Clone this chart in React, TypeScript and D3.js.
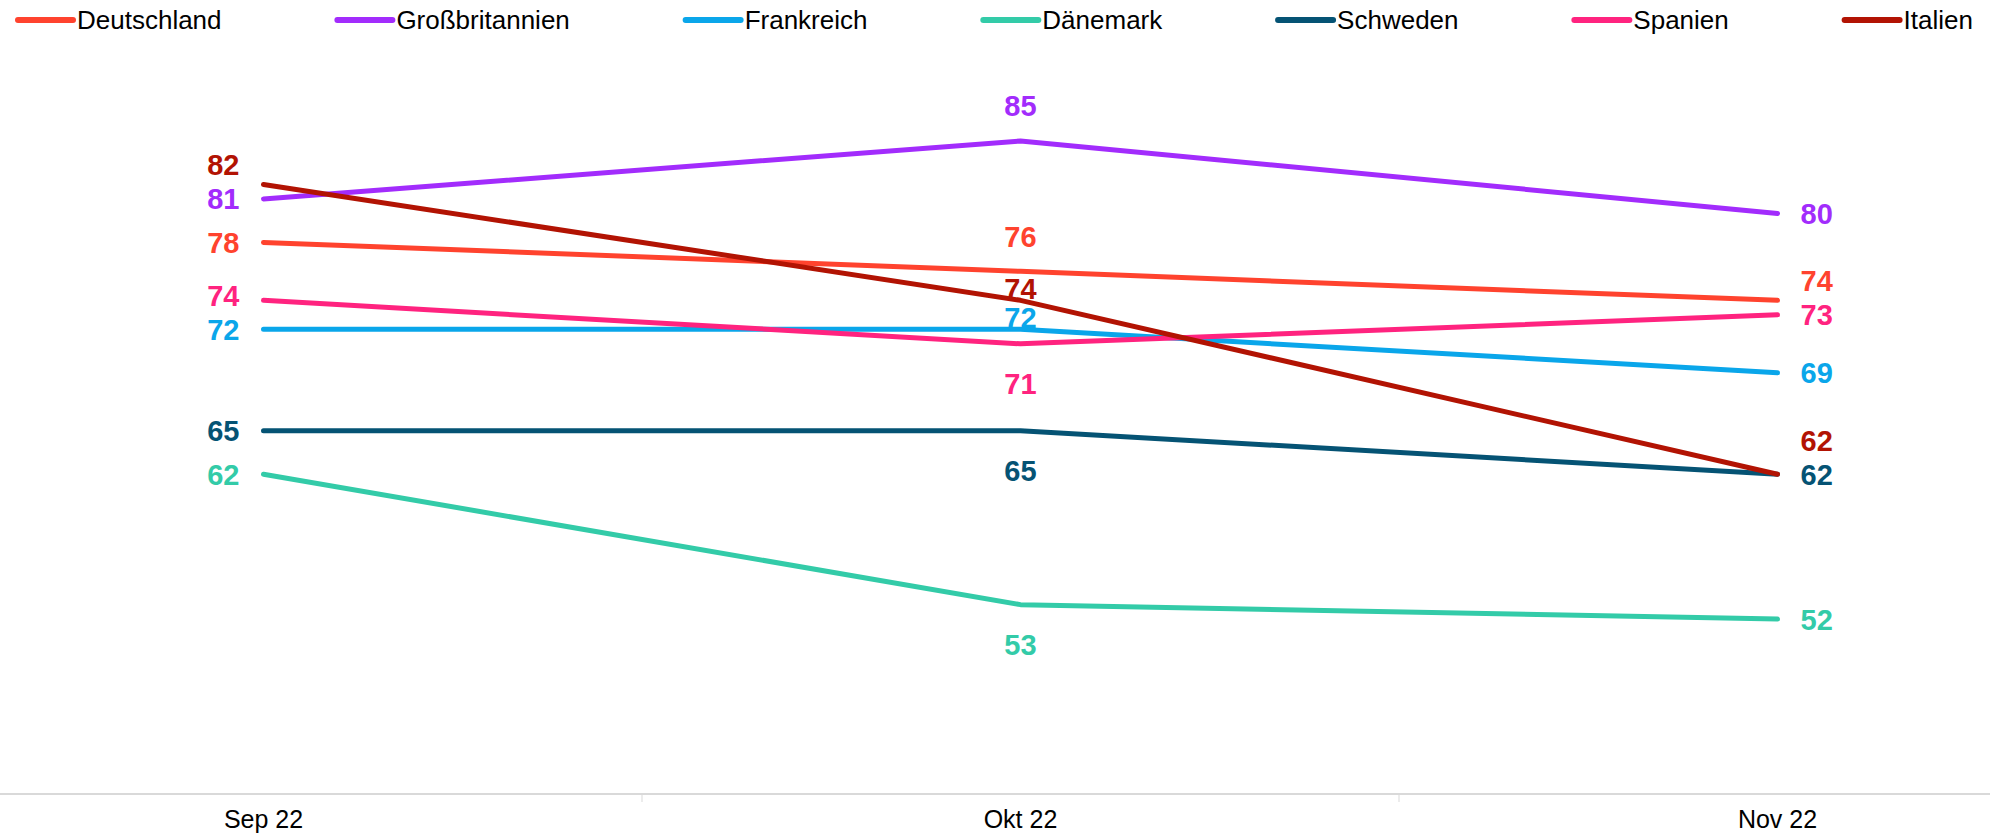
import * as d3 from "d3";
import React, { useEffect, useRef } from "react";

const W = 1990;
const H = 839;

const months = ["Sep 22", "Okt 22", "Nov 22"];
const countries = ["Deutschland", "Großbritannien", "Frankreich", "Dänemark", "Schweden", "Spanien", "Italien"];

const deutschland = [78, 76, 74];
const grossbritannien = [81, 85, 80];
const frankreich = [72, 72, 69];
const daenemark = [62, 53, 52];
const schweden = [65, 65, 62];
const spanien = [74, 71, 73];
const italien = [82, 74, 62];

const seriesValues = [deutschland, grossbritannien, frankreich, daenemark, schweden, spanien, italien];
const colors = ["#FF432E", "#A22CFC", "#0AA6EA", "#33CBA8", "#055374", "#FF237F", "#B21303"];

const FONT = "'Liberation Sans', Arial, sans-serif";

const App = () => {
    const svgRef = useRef(null);

    useEffect(() => {
        const svg = d3.select(svgRef.current);
        svg.selectAll("*").remove();

        // band scale: centres of the three months, ticks at band edges
        const x = d3.scaleBand().domain(months).range([-115, 2156]).paddingInner(0).paddingOuter(0);
        const cx = (m) => x(m) + x.bandwidth() / 2;
        const y = d3.scaleLinear().domain([40, 90]).range([793, 68.5]);

        const series = countries.map((name, i) => ({
            name,
            color: colors[i],
            values: seriesValues[i].map((v, j) => ({ month: months[j], value: v })),
        }));

        // x axis
        const axis = svg.append("g");
        axis.append("line")
            .attr("x1", 0).attr("x2", W)
            .attr("y1", y(40) + 1).attr("y2", y(40) + 1)
            .attr("stroke", "#D9D9D9").attr("stroke-width", 2);
        months.slice(1).forEach((m) => {
            axis.append("line")
                .attr("x1", x(m)).attr("x2", x(m))
                .attr("y1", y(40) + 1).attr("y2", y(40) + 9)
                .attr("stroke", "#D9D9D9").attr("stroke-width", 1);
        });
        axis.selectAll("text.month")
            .data(months)
            .enter()
            .append("text")
            .attr("x", (d) => cx(d))
            .attr("y", 828)
            .attr("text-anchor", "middle")
            .attr("font-family", FONT)
            .attr("font-size", 25)
            .attr("fill", "#000")
            .text((d) => d);

        // lines
        const line = d3.line()
            .x((d) => cx(d.month))
            .y((d) => y(d.value));

        svg.append("g")
            .selectAll("path")
            .data(series)
            .enter()
            .append("path")
            .attr("fill", "none")
            .attr("stroke", (d) => d.color)
            .attr("stroke-width", 5)
            .attr("stroke-linecap", "round")
            .attr("stroke-linejoin", "round")
            .attr("d", (d) => line(d.values));

        // data labels
        const labels = [];
        series.forEach((s, si) => {
            s.values.forEach((p, j) => {
                const py = y(p.value);
                let cy = py;
                if (j === 1) {
                    const above = p.value >= 72;
                    cy = above ? py - 35 : py + 40;
                    // label would sit on another line -> keep it tight to its own point
                    const hit = series.some((o, oi) => oi !== si && Math.abs(y(o.values[j].value) - cy) < 13);
                    if (hit) cy = above ? py - 12 : py + 12;
                }
                labels.push({ col: j, cy, value: p.value, color: s.color, px: cx(p.month) });
            });
        });
        // push the upper label up when two labels at the ends crowd each other
        [0, 2].forEach((col) => {
            const colLabels = labels.filter((l) => l.col === col).sort((a, b) => b.cy - a.cy);
            for (let k = 1; k < colLabels.length; k++) {
                const below = colLabels[k - 1];
                if (below.cy - colLabels[k].cy < 34) colLabels[k].cy = below.cy - 34;
            }
        });

        svg.append("g")
            .selectAll("text")
            .data(labels)
            .enter()
            .append("text")
            .attr("x", (d) => (d.col === 0 ? d.px - 24 : d.col === 2 ? d.px + 23 : d.px))
            .attr("y", (d) => d.cy)
            .attr("dy", "0.36em")
            .attr("text-anchor", (d) => (d.col === 0 ? "end" : d.col === 2 ? "start" : "middle"))
            .attr("font-family", FONT)
            .attr("font-weight", "bold")
            .attr("font-size", 29)
            .attr("fill", (d) => d.color)
            .text((d) => d.value);

        // legend, spread across the top
        const legend = svg.append("g");
        const items = series.map((s) => {
            const g = legend.append("g");
            g.append("line")
                .attr("x1", 0).attr("x2", 55)
                .attr("y1", 20).attr("y2", 20)
                .attr("stroke", s.color).attr("stroke-width", 6)
                .attr("stroke-linecap", "round");
            const t = g.append("text")
                .attr("x", 59).attr("y", 29)
                .attr("font-family", FONT)
                .attr("font-size", 26)
                .attr("fill", "#000")
                .text(s.name);
            return { g, w: 59 + t.node().getComputedTextLength() };
        });
        const left = 18, right = 1973;
        const total = d3.sum(items, (d) => d.w);
        const gap = (right - left - total) / (items.length - 1);
        let pos = left;
        items.forEach((it) => {
            it.g.attr("transform", `translate(${pos},0)`);
            pos += it.w + gap;
        });
    }, []);

    return (
        <svg
            ref={svgRef}
            width={W}
            height={H}
            style={{ position: "absolute", left: 0, top: 0, background: "#fff" }}
        />
    );
};

export default App;
